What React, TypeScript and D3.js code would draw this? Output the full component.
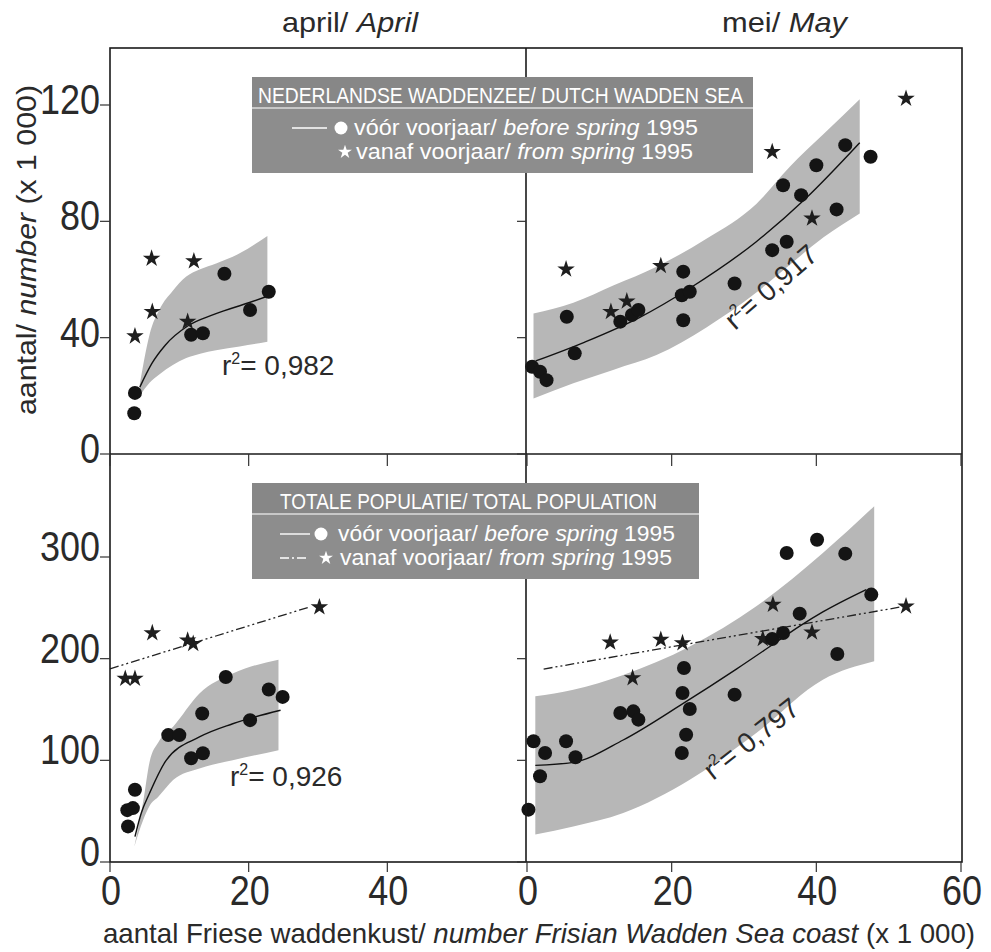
import React, { useEffect, useRef } from 'react'
import * as d3 from 'd3'

type Pt = [number, number]
type Band = [number, number, number] // x, lower, upper

// values in thousands
// top row: Nederlandse Waddenzee / Dutch Wadden Sea
const aprilDutchCircles: Pt[] = [[3.5, 14], [3.6, 21], [11.7, 41], [13.4, 41.5], [16.5, 62], [20.2, 49.5], [22.9, 55.8]]
const aprilDutchStars: Pt[] = [[3.6, 40.5], [6, 67.2], [6.1, 48.9], [11.2, 45.5], [12.1, 66.3]]
const aprilDutchFit: Pt[] = [[4.3, 23], [6, 31], [8, 37.5], [11.2, 44], [15, 48], [20, 52], [23, 54.5]]
const aprilDutchBand: Band[] = [[4.3, 20, 24], [5.7, 24.5, 41], [7.2, 27.5, 50], [9, 30.5, 56], [11, 33, 61], [13, 34.5, 63.5], [15.3, 35.7, 65.5], [18.7, 37, 69], [22.7, 38.6, 75]]

const mayDutchCircles: Pt[] = [[0.7, 30], [1.8, 28.3], [2.7, 25.4], [5.5, 47.2], [6.6, 34.6], [12.9, 45.5], [14.5, 47.8], [15.4, 49.5], [21.6, 62.7], [21.4, 54.6], [22.5, 55.8], [21.6, 46], [28.7, 58.6], [33.9, 70.1], [35.9, 73], [35.4, 92.4], [37.9, 89], [40, 99.3], [42.8, 84.1], [44, 106.2], [47.5, 102.2]]
const mayDutchStars: Pt[] = [[5.4, 63.5], [11.6, 48.9], [13.8, 52.5], [18.5, 64.7], [33.9, 103.9], [39.4, 81], [52.4, 122.2]]
const mayDutchFit: Pt[] = [[1.2, 32], [8, 38.5], [15.6, 47], [22.5, 57], [31.7, 73], [38.6, 88], [46, 107]]
const mayDutchBand: Band[] = [[0.9, 19.1, 48.3], [6.4, 24.3, 52], [12, 29, 58], [17.9, 34, 64.4], [24.8, 43.5, 74], [31.7, 55.5, 86], [36.3, 65, 98.7], [41, 74.5, 110], [46, 82.7, 122]]

// bottom row: totale populatie / total population
const aprilTotalCircles: Pt[] = [[2.6, 35], [2.5, 51], [3.3, 53], [3.6, 71], [8.4, 124.8], [10, 124.8], [11.7, 102], [13.4, 106.9], [13.3, 146], [16.7, 182], [20.2, 139.5], [22.9, 169.6], [24.9, 162.4]]
const aprilTotalStars: Pt[] = [[2.2, 180.4], [3.6, 180.4], [6.1, 225.2], [11.2, 218], [12, 214.7], [30.2, 250.7]]
const aprilTotalFit: Pt[] = [[3.6, 25], [4.5, 48], [5.7, 67.6], [8.1, 100], [12.9, 123], [17.7, 136], [24.6, 149.3]]
const aprilTotalTrend: Pt[] = [[0, 190], [28.7, 250.7]]
const aprilTotalBand: Band[] = [[3.5, 15, 15], [4.8, 41.5, 60], [5.7, 55, 98], [7, 64.4, 118], [9.1, 80.7, 133], [12.9, 92, 165.7], [17.7, 100, 185.3], [24.3, 110, 199]]

const mayTotalCircles: Pt[] = [[0.2, 51.5], [0.9, 118.7], [2.5, 107.2], [1.8, 84.3], [5.4, 118.7], [6.7, 103], [12.9, 146.6], [14.7, 148.2], [15.4, 140], [21.7, 190.8], [21.5, 166.2], [22.5, 150.5], [22, 125.2], [21.4, 107.2], [28.7, 164.6], [33.9, 219.3], [35.4, 225.2], [37.7, 244.3], [35.9, 303.9], [40.1, 317], [44, 303.3], [42.9, 204.6], [47.6, 263]]
const mayTotalStars: Pt[] = [[11.5, 216], [14.6, 181], [18.5, 218.7], [21.5, 215.4], [32.6, 219.5], [34, 253.1], [39.4, 225.9], [52.4, 251.5]]
const mayTotalFit: Pt[] = [[1.15, 95], [6.4, 98], [13.3, 120], [21.6, 156], [29, 190], [34, 214], [37.7, 232], [40.9, 246], [46.9, 268]]
const mayTotalTrend: Pt[] = [[2.3, 189.8], [52.2, 251.5]]
const mayTotalBand: Band[] = [[1.15, 27, 163], [6.4, 35, 169.5], [13.3, 48.2, 184], [22.5, 81, 212], [31.7, 126.9, 251.5], [40.9, 179.3, 304], [48, 197.4, 350]]

const xTicksLeft = [0, 20, 40]
const xTicksRight = [0, 20, 40, 60]
const yTicksTop = [0, 40, 80, 120]
const yTicksBottom = [0, 100, 200, 300]
const r2Labels = ['0,982', '0,917', '0,926', '0,797']

const FONT = 'Liberation Sans, Arial, sans-serif'

export default function App() {
  const svgRef = useRef<SVGSVGElement>(null)
  const width = 991
  const height = 952

  useEffect(() => {
    const svg = d3.select(svgRef.current)
    svg.selectAll('*').remove()
    svg.attr('font-family', FONT)

    const xLeft = d3.scaleLinear().domain([0, 60]).range([110, 526])
    const xRight = d3.scaleLinear().domain([0, 60]).range([527, 961])
    const yTop = d3.scaleLinear().domain([0, 120]).range([454, 105])
    const yBottom = d3.scaleLinear().domain([0, 300]).range([862, 557])

    const star = d3.symbol().type(d3.symbolStar)

    const panels = [
      { x: xLeft, y: yTop, band: aprilDutchBand, fit: aprilDutchFit, trend: null as Pt[] | null, circles: aprilDutchCircles, stars: aprilDutchStars },
      { x: xRight, y: yTop, band: mayDutchBand, fit: mayDutchFit, trend: null as Pt[] | null, circles: mayDutchCircles, stars: mayDutchStars },
      { x: xLeft, y: yBottom, band: aprilTotalBand, fit: aprilTotalFit, trend: aprilTotalTrend, circles: aprilTotalCircles, stars: aprilTotalStars },
      { x: xRight, y: yBottom, band: mayTotalBand, fit: mayTotalFit, trend: mayTotalTrend, circles: mayTotalCircles, stars: mayTotalStars },
    ]

    panels.forEach(p => {
      const g = svg.append('g')
      const area = d3.area<Band>()
        .x(d => p.x(d[0]))
        .y0(d => p.y(d[1]))
        .y1(d => p.y(d[2]))
        .curve(d3.curveMonotoneX)
      g.append('path').attr('d', area(p.band)).attr('fill', '#b7b7b7')

      const line = d3.line<Pt>().x(d => p.x(d[0])).y(d => p.y(d[1])).curve(d3.curveMonotoneX)
      if (p.trend) {
        g.append('path').attr('d', line(p.trend)).attr('fill', 'none')
          .attr('stroke', '#222').attr('stroke-width', 1.3).attr('stroke-dasharray', '9,3,2,3,2,3')
      }
      g.append('path').attr('d', line(p.fit)).attr('fill', 'none')
        .attr('stroke', '#111').attr('stroke-width', 1.4)

      g.selectAll('.star').data(p.stars).enter().append('path')
        .attr('d', star.size(95)())
        .attr('transform', d => `translate(${p.x(d[0])},${p.y(d[1])})`)
        .attr('fill', '#1e1e1e')

      g.selectAll('circle').data(p.circles).enter().append('circle')
        .attr('cx', d => p.x(d[0]))
        .attr('cy', d => p.y(d[1]))
        .attr('r', 7)
        .attr('fill', '#141414')
    })

    // frame, dividers and ticks
    const frame = svg.append('g').attr('stroke', '#1a1a1a').attr('stroke-width', 1.6).attr('fill', 'none')
    frame.append('rect').attr('x', 110).attr('y', 48).attr('width', 852).attr('height', 814)
    frame.append('line').attr('x1', 526).attr('x2', 526).attr('y1', 48).attr('y2', 862)
    frame.append('line').attr('x1', 110).attr('x2', 962).attr('y1', 454).attr('y2', 454)

    const tickG = svg.append('g').attr('stroke', '#333').attr('stroke-width', 1.2)
    ;[[xLeft, xTicksLeft], [xRight, xTicksRight]].forEach(([sc, ticks]: any) => {
      ticks.forEach((t: number) => {
        tickG.append('line').attr('x1', sc(t)).attr('x2', sc(t)).attr('y1', 454).attr('y2', 466)
        tickG.append('line').attr('x1', sc(t)).attr('x2', sc(t)).attr('y1', 862).attr('y2', 872)
      })
    })
    ;[[yTop, yTicksTop], [yBottom, yTicksBottom]].forEach(([sc, ticks]: any) => {
      ticks.forEach((t: number) => {
        tickG.append('line').attr('x1', 100).attr('x2', 110).attr('y1', sc(t)).attr('y2', sc(t))
        tickG.append('line').attr('x1', 517).attr('x2', 526).attr('y1', sc(t)).attr('y2', sc(t))
      })
    })

    // tick labels
    const tl = svg.append('g').attr('fill', '#2a2a2a').attr('font-size', 42)
    yTicksTop.forEach(t => {
      const s = String(t)
      tl.append('text').attr('x', 100 - 20 * s.length).attr('y', yTop(t) + 9)
        .attr('textLength', 20 * s.length).attr('lengthAdjust', 'spacingAndGlyphs').text(s)
    })
    yTicksBottom.forEach(t => {
      const s = String(t)
      tl.append('text').attr('x', 100 - 20 * s.length).attr('y', yBottom(t) + 4)
        .attr('textLength', 20 * s.length).attr('lengthAdjust', 'spacingAndGlyphs').text(s)
    })
    ;[[xLeft, xTicksLeft], [xRight, xTicksRight]].forEach(([sc, ticks]: any) => {
      ticks.forEach((t: number) => {
        const s = String(t)
        tl.append('text').attr('x', sc(t) + 1 - 10 * s.length).attr('y', 905)
          .attr('textLength', 20 * s.length).attr('lengthAdjust', 'spacingAndGlyphs').text(s)
      })
    })

    // titles and axis labels
    const txt = svg.append('g').attr('fill', '#2a2a2a')
    const t1 = txt.append('text').attr('x', 282).attr('y', 32).attr('font-size', 28)
      .attr('textLength', 136).attr('lengthAdjust', 'spacingAndGlyphs')
    t1.append('tspan').text('april/ ')
    t1.append('tspan').attr('font-style', 'italic').text('April')
    const t2 = txt.append('text').attr('x', 722).attr('y', 32).attr('font-size', 28)
      .attr('textLength', 125).attr('lengthAdjust', 'spacingAndGlyphs')
    t2.append('tspan').text('mei/ ')
    t2.append('tspan').attr('font-style', 'italic').text('May')

    const xl = txt.append('text').attr('x', 103).attr('y', 943).attr('font-size', 28)
      .attr('textLength', 872).attr('lengthAdjust', 'spacingAndGlyphs')
    xl.append('tspan').text('aantal Friese waddenkust/ ')
    xl.append('tspan').attr('font-style', 'italic').text('number Frisian Wadden Sea coast')
    xl.append('tspan').text(' (x 1 000)')

    const yl = txt.append('text').attr('transform', 'translate(36,250) rotate(-90)')
      .attr('text-anchor', 'middle').attr('font-size', 28)
      .attr('textLength', 330).attr('lengthAdjust', 'spacingAndGlyphs')
    yl.append('tspan').text('aantal/ ')
    yl.append('tspan').attr('font-style', 'italic').text('number')
    yl.append('tspan').text(' (x 1 000)')

    // r² annotations
    const r2Pos = [
      'translate(222,375)',
      'translate(735,331) rotate(-41)',
      'translate(230,786)',
      'translate(713,781) rotate(-38)',
    ]
    r2Labels.forEach((v, i) => {
      const t = txt.append('text').attr('transform', r2Pos[i]).attr('font-size', 28)
      t.append('tspan').text('r')
      t.append('tspan').attr('font-size', 16).attr('dy', -11).text('2')
      t.append('tspan').attr('dy', 11).text('= ' + v)
    })

    // legends
    const legend = (x: number, y: number, w: number, title: string, titleX: number, titleLen: number,
      lineX: [number, number], circleX: number, starX: number, row1X: number, row1Len: number,
      row2X: number, row2Len: number, dashed: boolean) => {
      const g = svg.append('g')
      g.append('rect').attr('x', x).attr('y', y).attr('width', w).attr('height', 96).attr('fill', '#8d8d8d')
      g.append('rect').attr('x', x).attr('y', y).attr('width', w).attr('height', 31).attr('fill', '#878787')
      g.append('line').attr('x1', x).attr('x2', x + w).attr('y1', y + 31).attr('y2', y + 31)
        .attr('stroke', '#dcdcdc').attr('stroke-width', 1.5)
      g.append('text').attr('x', titleX).attr('y', y + 26).attr('font-size', 22).attr('fill', '#fff')
        .attr('textLength', titleLen).attr('lengthAdjust', 'spacingAndGlyphs').text(title)
      const r1 = y + 51
      const r2 = y + 75
      g.append('line').attr('x1', lineX[0]).attr('x2', lineX[1]).attr('y1', r1).attr('y2', r1)
        .attr('stroke', '#fff').attr('stroke-width', 1.4)
      g.append('circle').attr('cx', circleX).attr('cy', r1).attr('r', 6.5).attr('fill', '#fff')
      const a = g.append('text').attr('x', row1X).attr('y', r1 + 7).attr('font-size', 22).attr('fill', '#fff')
        .attr('textLength', row1Len).attr('lengthAdjust', 'spacingAndGlyphs')
      a.append('tspan').text('vóór voorjaar/ ')
      a.append('tspan').attr('font-style', 'italic').text('before spring')
      a.append('tspan').text(' 1995')
      if (dashed) {
        g.append('line').attr('x1', lineX[0]).attr('x2', lineX[1] - 4).attr('y1', r2).attr('y2', r2)
          .attr('stroke', '#fff').attr('stroke-width', 1.4).attr('stroke-dasharray', '9,3,2,3')
      }
      g.append('path').attr('d', star.size(60)()).attr('transform', `translate(${starX},${r2})`).attr('fill', '#fff')
      const b = g.append('text').attr('x', row2X).attr('y', r2 + 7).attr('font-size', 22).attr('fill', '#fff')
        .attr('textLength', row2Len).attr('lengthAdjust', 'spacingAndGlyphs')
      b.append('tspan').text('vanaf voorjaar/ ')
      b.append('tspan').attr('font-style', 'italic').text('from spring')
      b.append('tspan').text(' 1995')
    }
    legend(252, 77, 501, 'NEDERLANDSE WADDENZEE/ DUTCH WADDEN SEA', 258, 485,
      [292, 327], 341, 345, 354, 344, 356, 337, false)
    legend(252, 483, 447, 'TOTALE POPULATIE/ TOTAL POPULATION', 280, 377,
      [280, 310], 321, 326, 338, 337, 340, 332, true)
  }, [])

  return (
    <svg ref={svgRef} width={width} height={height}
      style={{ position: 'absolute', left: 0, top: 0, background: '#fff', display: 'block' }} />
  )
}
